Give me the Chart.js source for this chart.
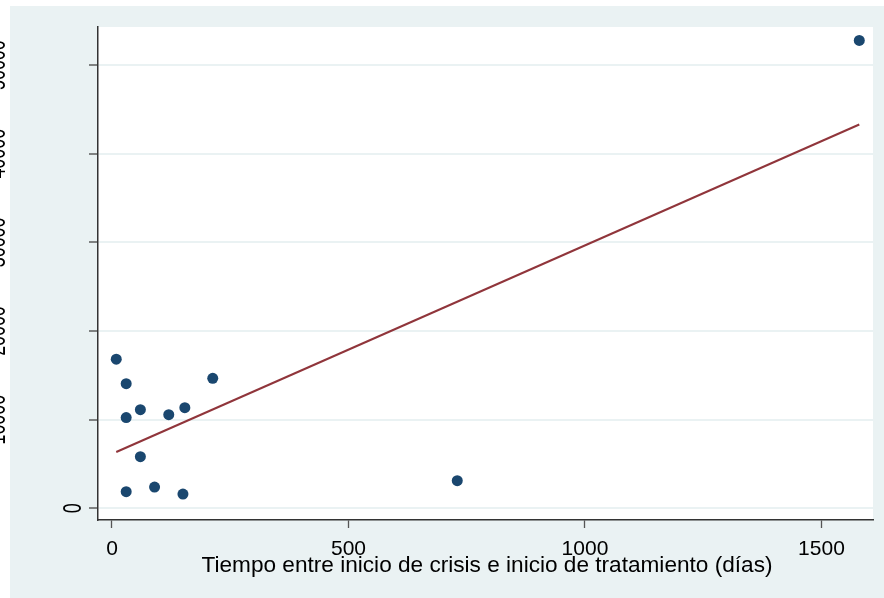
<!DOCTYPE html>
<html>
<head>
<meta charset="utf-8">
<script src="https://cdn.jsdelivr.net/npm/chart.js@4.4.1/dist/chart.umd.min.js"></script>
<style>
  html, body { margin: 0; padding: 0; background: #ffffff; }
  #c { display: block; }
</style>
</head>
<body>
<canvas id="c" width="884" height="598"></canvas>
<script>
// ---- data ----
const diasTratamiento = [9, 30, 30, 60, 120, 154, 213, 60, 30, 90, 150, 730, 1580];
const valores        = [16820, 14060, 10230, 11130, 10560, 11350, 14670, 5820, 1870, 2400, 1610, 3120, 52780];
const ajusteX = [9, 1580];
const ajusteY = [6350, 43300];
const xTicks = [0, 500, 1000, 1500];
const xTickLabels = ['0', '500', '1000', '1500'];
const yTicks = [0, 10000, 20000, 30000, 40000, 50000];
const yTickLabels = ['0', '10000', '20000', '30000', '40000', '50000'];
const xTitle = 'Tiempo entre inicio de crisis e inicio de tratamiento (días)';

const FONT = '"Liberation Sans", Arial, sans-serif';

const bgPlugin = {
  id: 'bg',
  beforeDraw(chart) {
    const ctx = chart.ctx, a = chart.chartArea;
    ctx.save();
    ctx.fillStyle = '#ffffff';
    ctx.fillRect(0, 0, chart.width, chart.height);
    ctx.fillStyle = '#eaf2f3';
    ctx.fillRect(10, 6, chart.width - 10, chart.height - 6);
    ctx.fillStyle = '#ffffff';
    ctx.fillRect(a.left, a.top, a.right - a.left, a.bottom - a.top);
    ctx.restore();
  }
};

const textPlugin = {
  id: 'texts',
  afterDraw(chart) {
    const ctx = chart.ctx, ys = chart.scales.y;
    ctx.save();
    ctx.fillStyle = '#000000';
    ctx.font = '21px ' + FONT;
    yTicks.forEach((v, i) => {
      const lbl = yTickLabels[i];
      const py = ys.getPixelForValue(v);
      const bx = lbl.length === 1 ? 81 : 5;
      ctx.save();
      ctx.translate(bx, py);
      ctx.rotate(-Math.PI / 2);
      ctx.scale(0.85, 1.2);
      ctx.textAlign = 'center';
      ctx.textBaseline = 'alphabetic';
      ctx.fillText(lbl, 0, 0);
      ctx.restore();
    });
    // x axis title
    let size = 20;
    ctx.font = size + 'px ' + FONT;
    const w = ctx.measureText(xTitle).width;
    size = size * 571 / w;
    ctx.font = size.toFixed(2) + 'px ' + FONT;
    ctx.textAlign = 'center';
    ctx.textBaseline = 'alphabetic';
    ctx.fillText(xTitle, 487, 572);
    ctx.restore();
  }
};

new Chart(document.getElementById('c'), {
  type: 'scatter',
  data: {
    datasets: [
      {
        data: diasTratamiento.map((x, i) => ({ x: x, y: valores[i] })),
        backgroundColor: '#1a476f',
        borderWidth: 0,
        pointRadius: 5.5,
        order: 2
      },
      {
        data: ajusteX.map((x, i) => ({ x: x, y: ajusteY[i] })),
        showLine: true,
        borderColor: '#90353b',
        borderWidth: 2,
        pointRadius: 0,
        order: 1
      }
    ]
  },
  options: {
    responsive: false,
    devicePixelRatio: 1,
    animation: false,
    layout: { padding: { top: 27, right: 11, left: 0, bottom: 0 } },
    plugins: { legend: { display: false }, tooltip: { enabled: false } },
    scales: {
      x: {
        type: 'linear',
        min: -29.6,
        max: 1609,
        afterBuildTicks(s) { s.ticks = xTicks.map(v => ({ value: v })); },
        afterFit(s) { s.height = 78; },
        grid: { drawOnChartArea: false, drawTicks: true, tickLength: 8, tickColor: '#555555', tickWidth: 1.3 },
        border: { display: true, color: '#333333', width: 1.5 },
        ticks: {
          color: '#000000', font: { family: FONT, size: 21 }, padding: 9, maxRotation: 0, autoSkip: false,
          callback(v) { const i = xTicks.indexOf(v); return i >= 0 ? xTickLabels[i] : ''; }
        }
      },
      y: {
        type: 'linear',
        min: -1320,
        max: 54300,
        afterBuildTicks(s) { s.ticks = yTicks.map(v => ({ value: v })); },
        afterFit(s) { s.width = 98; },
        grid: { drawOnChartArea: true, color: '#eaf2f3', lineWidth: 2, drawTicks: true, tickLength: 9, tickColor: '#444444', tickWidth: 1.3 },
        border: { display: true, color: '#333333', width: 1.5 },
        ticks: { display: false }
      }
    }
  },
  plugins: [bgPlugin, textPlugin]
});
</script>
</body>
</html>
